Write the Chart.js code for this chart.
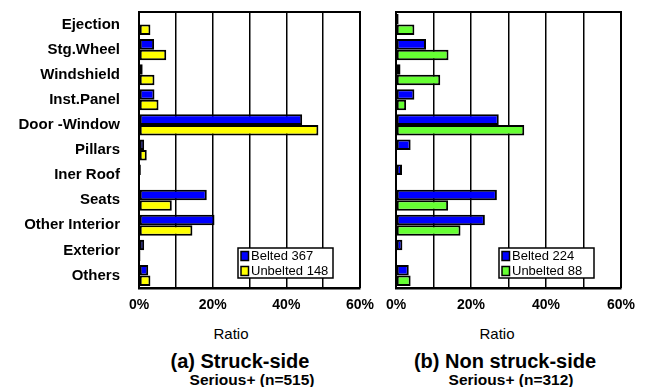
<!DOCTYPE html>
<html>
  <head>
    <title>Injury Sources</title>
    <script src="https://cdn.jsdelivr.net/npm/chart.js"></script>
    <style>
      body { margin: 0; background: #fff; width: 649px; height: 387px; position: relative; overflow: hidden; font-family: 'Liberation Sans', Arial, sans-serif; }
      canvas { position: absolute; top: 0; }
      #struck-graph { left: 0; }
      #nonstruck-graph { left: 380px; }
      .lbl { position: absolute; white-space: nowrap; transform: translateX(-50%); color: #000; line-height: 1; }
      .ratio { font-size: 15px; top: 326px; }
      .title { font-size: 20px; font-weight: bold; top: 351px; }
      .sub { font-size: 15.5px; font-weight: bold; top: 372px; }
    </style>
  </head>
  <body>
    <canvas id="struck-graph" width="380" height="320"></canvas>
    <canvas id="nonstruck-graph" width="269" height="320"></canvas>

    <div class="lbl ratio" style="left:231px">Ratio</div>
    <div class="lbl ratio" style="left:497px">Ratio</div>
    <div class="lbl title" style="left:240px">(a) Struck-side</div>
    <div class="lbl title" style="left:505px">(b) Non struck-side</div>
    <div class="lbl sub" style="left:252px">Serious+ (n=515)</div>
    <div class="lbl sub" style="left:511px">Serious+ (n=312)</div>

    <script>
      var categories = ['Ejection', 'Stg.Wheel', 'Windshield', 'Inst.Panel', 'Door -Window', 'Pillars',
        'Iner Roof', 'Seats', 'Other Interior', 'Exterior', 'Others'];

      // ratio in %
      var struckBelted = [0, 4.1, 1.0, 4.2, 44.3, 1.4, 0.5, 18.4, 20.5, 1.4, 2.5];
      var struckUnbelted = [3.1, 7.4, 4.2, 5.3, 48.7, 2.1, 0, 8.9, 14.5, 0.4, 3.1];
      var nonStruckBelted = [0.7, 8.0, 1.2, 4.9, 27.4, 3.9, 1.6, 26.9, 23.7, 1.7, 3.4];
      var nonStruckUnbelted = [4.9, 14.0, 11.8, 2.7, 34.2, 0, 0, 13.9, 17.2, 0, 3.9];

      var struckLegend = ['Belted 367', 'Unbelted 148'];
      var nonStruckLegend = ['Belted 224', 'Unbelted 88'];

      var ratioMax = 60;
      var gridStep = 10;
      var labelStep = 20;

      Chart.defaults.font.family = "'Liberation Sans', Arial, sans-serif";
      Chart.defaults.color = '#000';

      // box around the plot + legend drawn inside the plot area
      var framePlugin = {
        id: 'frame',
        afterDraw: function (chart) {
          var ctx = chart.ctx;
          var area = chart.chartArea;
          ctx.save();
          ctx.strokeStyle = '#000';
          ctx.lineWidth = 2;
          ctx.beginPath();
          ctx.moveTo(area.left, area.top);
          ctx.lineTo(area.right, area.top);
          ctx.lineTo(area.right, area.bottom);
          ctx.stroke();

          var boxW = 95, boxH = 30;
          var boxL = area.right - 27 - boxW;
          var boxT = area.bottom - 40;
          ctx.lineWidth = 1.5;
          ctx.fillStyle = '#fff';
          ctx.fillRect(boxL, boxT, boxW, boxH);
          ctx.strokeRect(boxL, boxT, boxW, boxH);

          ctx.font = "13px 'Liberation Sans', Arial, sans-serif";
          ctx.textBaseline = 'middle';
          chart.data.datasets.forEach(function (ds, i) {
            var rowY = boxT + 8 + i * 15;
            ctx.fillStyle = ds.backgroundColor;
            ctx.fillRect(boxL + 3, rowY - 4.5, 7.5, 9);
            ctx.strokeRect(boxL + 3, rowY - 4.5, 7.5, 9);
            ctx.fillStyle = '#000';
            ctx.fillText(ds.label, boxL + 13, rowY + 0.5);
          });
          ctx.restore();
        },
      };

      function makeChart(canvasId, belted, unbelted, legend, unbeltedColor, showCategories) {
        var ctx = document.getElementById(canvasId).getContext('2d');
        return new Chart(ctx, {
          type: 'bar',
          data: {
            labels: categories,
            datasets: [
              { label: legend[0], data: belted, backgroundColor: '#0000ff' },
              { label: legend[1], data: unbelted, backgroundColor: unbeltedColor },
            ],
          },
          options: {
            indexAxis: 'y',
            responsive: false,
            animation: false,
            layout: { padding: { top: 12, right: showCategories ? 20 : 28, bottom: 0, left: 0 } },
            datasets: {
              bar: {
                categoryPercentage: 0.84,
                barPercentage: 1.0,
                borderColor: '#000',
                borderWidth: 2,
                borderSkipped: false,
              },
            },
            scales: {
              x: {
                min: 0,
                max: ratioMax,
                ticks: {
                  stepSize: gridStep,
                  padding: 9,
                  maxRotation: 0,
                  font: { size: 14, weight: 'bold' },
                  callback: function (v) { return v % labelStep === 0 ? v + '%' : ''; },
                },
                grid: { color: '#000', lineWidth: 1.5, drawTicks: false },
                border: { display: true, color: '#000', width: 2.5 },
                afterFit: function (scale) {
                  scale.height = 32;
                  scale.paddingLeft = 0;
                  scale.paddingRight = 0;
                },
              },
              y: {
                ticks: {
                  display: showCategories,
                  padding: 19,
                  font: { size: 15, weight: 'bold' },
                },
                grid: { display: false, drawTicks: false },
                border: { display: true, color: '#000', width: 2 },
                afterFit: function (scale) {
                  scale.width = showCategories ? 139 : 16;
                  scale.paddingTop = 0;
                  scale.paddingBottom = 0;
                },
              },
            },
            plugins: {
              legend: { display: false },
              tooltip: { enabled: false },
            },
          },
          plugins: [framePlugin],
        });
      }

      var struckChart = makeChart('struck-graph', struckBelted, struckUnbelted, struckLegend, '#ffff00', true);
      var nonStruckChart = makeChart('nonstruck-graph', nonStruckBelted, nonStruckUnbelted, nonStruckLegend, '#66ff33', false);
    </script>
  </body>
</html>
